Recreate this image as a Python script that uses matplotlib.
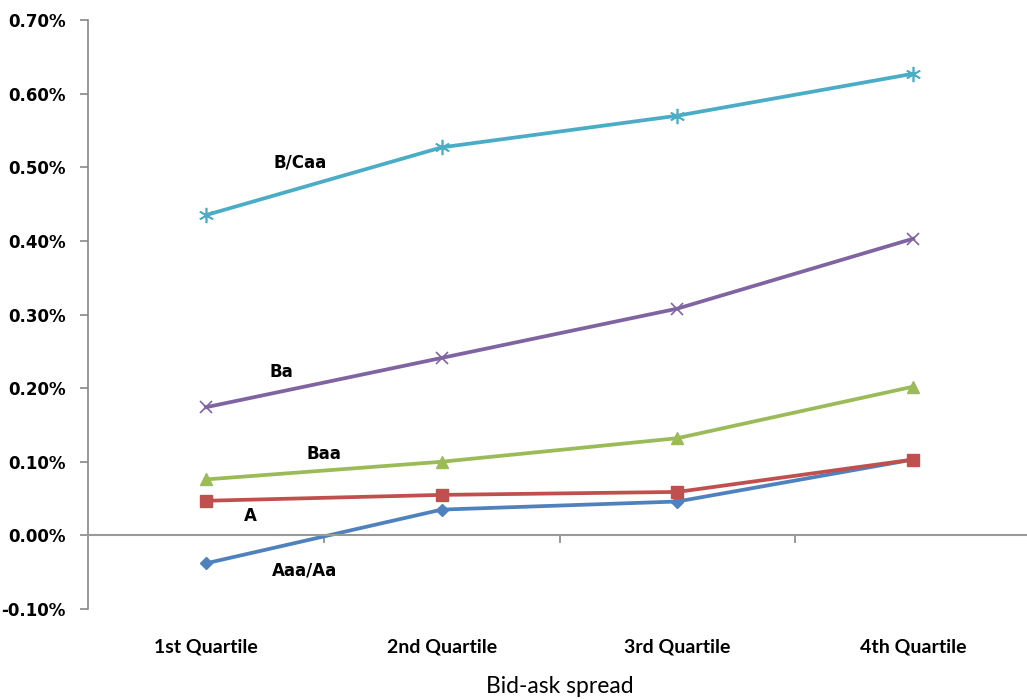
import matplotlib.pyplot as plt
import numpy as np
from matplotlib.ticker import FuncFormatter

quartiles = ["1st Quartile", "2nd Quartile", "3rd Quartile", "4th Quartile"]
aaa_aa = [-0.038, 0.035, 0.046, 0.103]
a_rt = [0.047, 0.055, 0.059, 0.103]
baa = [0.076, 0.100, 0.132, 0.202]
ba = [0.174, 0.241, 0.308, 0.403]
b_caa = [0.435, 0.527, 0.570, 0.627]

fig = plt.figure(figsize=(10.27, 6.99), dpi=100)
ax = fig.add_axes([88/1027, 90/699, 943/1027, 589/699])
x = np.arange(len(quartiles))

lw = 2.7
ax.plot(x, aaa_aa, color="#4F81BD", lw=lw, marker="D", ms=6)
ax.plot(x, a_rt, color="#C0504D", lw=lw, marker="s", ms=9)
ax.plot(x, baa, color="#9BBB59", lw=lw, marker="^", ms=9)
ax.plot(x, ba, color="#8064A2", lw=lw, marker="x", ms=9, mew=1.2)
ax.plot(x, b_caa, color="#4BACC6", lw=lw, marker=(6, 2, 0), ms=11, mew=1.2)

lab = dict(fontsize=12, fontweight="bold", ha="center", va="center", family="DejaVu Sans")
ax.text(0.40, 0.507, "B/Caa", **lab)
ax.text(0.32, 0.222, "Ba", **lab)
ax.text(0.50, 0.110, "Baa", **lab)
ax.text(0.19, 0.026, "A", **lab)
ax.text(0.42, -0.048, "Aaa/Aa", **lab)

ax.set_xlim(-0.5, 3.5)
ax.set_ylim(-0.10, 0.70)
ax.set_yticks(np.arange(-0.10, 0.71, 0.10))
ax.yaxis.set_major_formatter(FuncFormatter(lambda v, p: f"{v:.2f}%"))
for t in ax.get_yticklabels():
    t.set_fontweight("bold")
    t.set_fontsize(12)
ax.tick_params(axis="y", length=6, color="#888888", width=1.2, pad=10)

# horizontal axis crosses at zero, tick marks between categories
for s in ["top", "right"]:
    ax.spines[s].set_visible(False)
ax.spines["left"].set_color("#888888")
ax.spines["left"].set_linewidth(1.2)
ax.spines["bottom"].set_position(("data", 0))
ax.spines["bottom"].set_color("#999999")
ax.spines["bottom"].set_linewidth(1.5)
ax.set_xticks([0.5, 1.5, 2.5])
ax.set_xticklabels([])
ax.tick_params(axis="x", length=6, color="#888888", width=1.2, direction="out")

# category labels sit below the plot area
sec = ax.secondary_xaxis("bottom")
sec.set_xticks(x, quartiles)
sec.tick_params(length=0, pad=21)
sec.spines["bottom"].set_visible(False)
for t in sec.get_xticklabels():
    t.set_fontweight("bold")
    t.set_fontsize(14)
    t.set_family("Lato")
sec.set_xlabel("Bid-ask spread", fontsize=16.5, family="Lato", labelpad=15)

fig.savefig("out.png", dpi=100)
